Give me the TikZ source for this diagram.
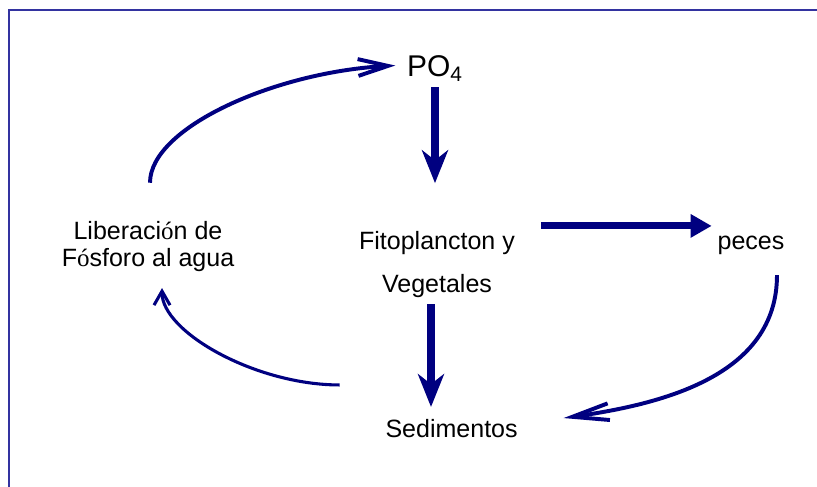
\documentclass[tikz,border=0pt]{standalone}
\usepackage{fontspec}
\setmainfont{Liberation Sans}
\newfontfamily\accfont{Liberation Serif}
\usetikzlibrary{arrows.meta}
\definecolor{navy}{RGB}{0,0,128}
\definecolor{framecol}{RGB}{51,51,160}

\begin{document}
\begin{tikzpicture}[font=\fontsize{17.8pt}{19.2pt}\selectfont, inner sep=4pt,
    fat/.style={draw=navy, line width=5.3pt, -{Stealth[length=0.82cm, width=0.65cm, inset=0.25cm]}},
    wide/.style={draw=navy, line width=5pt, -{Triangle[length=0.53cm, width=0.56cm]}},
    cycleline/.style={draw=navy, line width=2.8pt}]
    \useasboundingbox (0, 0) rectangle (20.425, 12.175);
    \draw[framecol, line width=1.4pt] (0.225, 0) -- (0.225, 11.925) -- (20.425, 11.925);

    \node (po4) [anchor=base, font=\fontsize{21.3pt}{24pt}\selectfont] at (10.875, 10.25) {PO\textsubscript{4}};
    \node (fito) [align=center] at (10.925, 5.55) {Fitoplancton y\\[11.4pt]Vegetales};
    \node (peces) [anchor=base] at (18.775, 5.925) {peces};
    \node (sed) [anchor=base] at (11.29, 1.25) {Sedimentos};
    \node (lib) [align=center] at (3.7, 6.0) {Liberaci{\accfont ó}n de\\F{\accfont ó}sforo al agua};

    \draw[fat, shorten >=1.07cm] (po4.south) -- (po4.south |- fito.north);
    \draw[fat, shorten >=0.15cm] ([xshift=-0.15cm]fito.south) -- ([xshift=-0.15cm]fito.south |- sed.north);
    \draw[wide, shorten <=0.5cm] (fito.north east) -- (fito.north east -| peces.west);
    \draw[cycleline, -{Straight Barb[length=0.92cm, width=0.42cm]}]
        ([xshift=0.65cm, yshift=-0.35cm]peces.south) to[out=-90, in=8] ([xshift=1cm, yshift=0.25cm]sed.east);
    \draw[cycleline, line width=2.2pt, -{Straight Barb[length=0.35cm, width=0.4cm]}]
        ([xshift=-1cm, yshift=0.7cm]sed.north west) to[out=180, in=-90, out distance=2.1cm, in distance=1.1cm] ([xshift=0.35cm, yshift=-0.25cm]lib.south);
    \draw[cycleline, -{Straight Barb[length=0.75cm, width=0.42cm]}]
        ([xshift=0.05cm, yshift=0.83cm]lib.north) to[out=90, in=183, out distance=1.38cm, in distance=3cm] ([xshift=-0.15cm, yshift=0.08cm]po4.west);
\end{tikzpicture}
\end{document}
